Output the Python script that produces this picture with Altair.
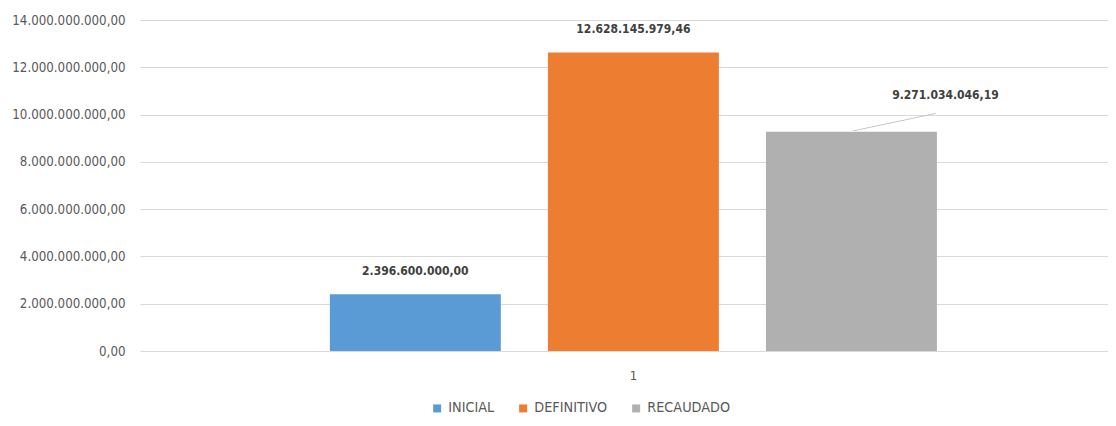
import altair as alt
import pandas as pd

categoria = ["1", "1", "1"]
series = ["INICIAL", "DEFINITIVO", "RECAUDADO"]
valores = [2396600000.00, 12628145979.46, 9271034046.19]
colores = ["#5B9BD5", "#ED7D31", "#B0B0B0"]
y_ticks = [0, 2e9, 4e9, 6e9, 8e9, 10e9, 12e9, 14e9]

df = pd.DataFrame({"cat": categoria, "serie": series, "valor": valores})

FONT = "Liberation Sans Narrow, DejaVu Sans Condensed, Roboto, sans-serif"
fmt_expr = "replace(replace(replace(format({v}, ',.2f'), /,/g, '_'), /\\./g, ','), /_/g, '.')"

base = alt.Chart(df).transform_calculate(
    etiqueta=fmt_expr.format(v="datum.valor")
).encode(
    x=alt.X("cat:N", title=None,
            scale=alt.Scale(paddingInner=0, paddingOuter=0.2973, align=0.526),
            axis=alt.Axis(labelAngle=0, ticks=False, domain=False, labelPadding=18,
                          labelFont=FONT, labelFontSize=13, labelColor="#595959")),
    xOffset=alt.XOffset("serie:N", sort=series,
                        scale=alt.Scale(paddingInner=0.216, paddingOuter=0)),
    y=alt.Y("valor:Q", title=None,
            scale=alt.Scale(domain=[0, 14e9], nice=False),
            axis=alt.Axis(values=y_ticks, ticks=False, domain=False, grid=True,
                          gridColor="#D9D9D9", gridWidth=1, labelPadding=15,
                          labelFont=FONT, labelFontSize=13.2,
                          labelColor="#595959",
                          labelExpr=fmt_expr.format(v="datum.value"))),
)

bars = base.mark_bar().encode(
    color=alt.Color("serie:N", sort=series,
                    scale=alt.Scale(domain=series, range=colores),
                    legend=alt.Legend(title=None, orient="none", direction="horizontal",
                                      legendX=290, legendY=381,
                                      symbolType="square", symbolSize=64,
                                      symbolStrokeWidth=0, labelOffset=4,
                                      labelFont=FONT, labelFontSize=14.3,
                                      labelColor="#595959", columnPadding=21))
)

labels = base.transform_filter("datum.serie != 'RECAUDADO'").mark_text(
    baseline="middle", dy=-23, font=FONT, fontSize=12, fontWeight="bold", color="#404040"
).encode(text="etiqueta:N")

label_grey = base.transform_filter("datum.serie == 'RECAUDADO'").mark_text(
    baseline="middle", dx=94, dy=-37, font=FONT, fontSize=12, fontWeight="bold", color="#404040"
).encode(text="etiqueta:N")

leader = base.transform_filter("datum.serie == 'RECAUDADO'").mark_text(
    align="left", baseline="middle", angle=348, dx=2, dy=0,
    font="DejaVu Sans", fontSize=10, color="#BFBFBF"
).encode(text=alt.value("─" * 14))

chart = alt.layer(bars, leader, labels, label_grey).properties(
    width=968, height=331,
    autosize=alt.AutoSizeParams(type="none"),
    padding={"left": 132, "top": 12, "right": 0, "bottom": 67}
).configure_view(stroke=None)

chart.save("out.html", embed_options={"renderer": "svg", "actions": False})
